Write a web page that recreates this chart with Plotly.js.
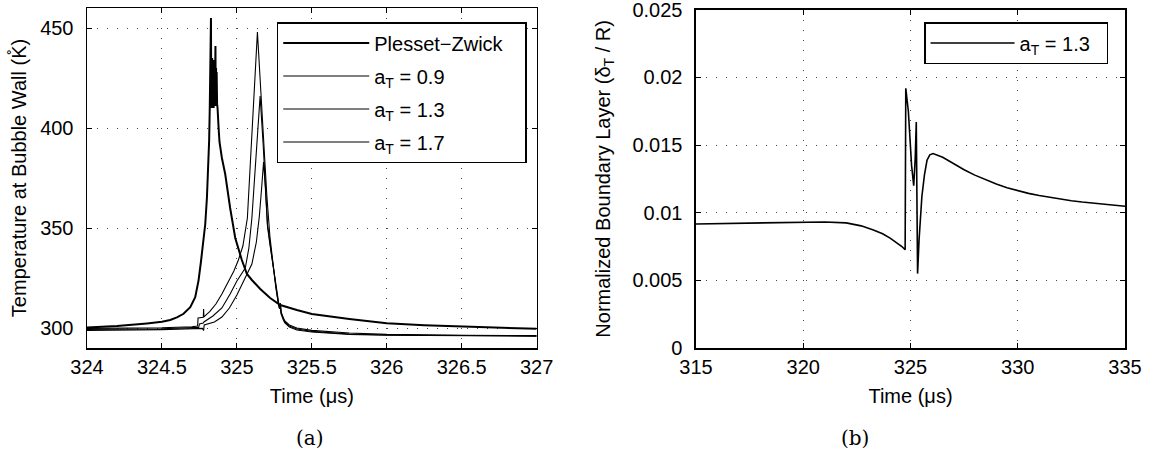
<!DOCTYPE html>
<html>
<head>
<meta charset="utf-8">
<script src="https://cdn.plot.ly/plotly-3.0.1.min.js"></script>
<style>html,body{margin:0;padding:0;background:#fff;}#chart{width:1156px;height:460px;}</style>
</head>
<body>
<div id="chart"></div>
<script>
// ---- Panel (a): temperature at bubble wall ----
const pzTime = [324.0,324.2,324.4,324.5,324.555,324.6,324.644,324.689,324.722,324.744,324.76,324.775,324.789,324.8,324.81,324.815,324.819,324.822,324.824,324.827,324.829,324.831,324.833,324.835,324.837,324.839,324.841,324.843,324.845,324.847,324.849,324.851,324.853,324.855,324.857,324.859,324.861,324.863,324.865,324.868,324.871,324.878,324.884,324.9,324.922,324.955,324.989,325.033,325.067,325.1,325.156,325.222,325.289,325.4,325.5,325.75,326.0,326.25,326.5,326.75,327.0];
const pzTemp = [300.3,301.0,302.3,303.1,304.0,305.3,307.1,310.4,315.4,323.7,333,342,352,365,382,394,410,428,432,455,416,434,410,435,411,433,412,434,410,433,413,432,411,426,441,412,430,411,428,412,410,400,393,385,377,360,345,334,327,324,319.5,315,311.5,309,307,304.5,302.4,301.4,300.7,300.1,299.6];

const a09Time = [324.0,324.3,324.5,324.7,324.738,324.741,324.776,324.778,324.78,324.82,324.86,324.9,324.94,324.98,325.01,325.04,325.07,325.09,325.1,325.12,325.137,325.16,325.178,325.2,325.22,325.244,325.26,325.275,325.285,325.29,325.295,325.31,325.32,325.35,325.4,325.5,325.75,326.0,326.5,327.0];
const a09Temp = [299.8,299.9,300.1,300.6,301.0,305.0,305.4,309.5,305.6,308.3,312,317,322.5,328.5,334,341,355,381,395,421,448,418,394,366,346,329,320,313,309.5,312.5,308,305,303.5,301.5,300,298.8,297.5,296.8,296.3,296.2];

const a13Time = [324.0,324.5,324.745,324.75,324.776,324.78,324.84,324.9,324.955,325.0,325.056,325.08,325.1,325.12,325.137,325.155,325.175,325.19,325.204,325.22,325.244,325.26,325.275,325.285,325.29,325.295,325.31,325.32,325.35,325.4,325.5,325.75,326.0,326.5,327.0];
const a13Temp = [299.3,299.6,300.3,302.0,302.5,303.0,306,310,317,323.5,330,340,355,378,398,416,392,370,352,343,329,320,313,309.5,312,307.5,304.5,303,301,299.5,298.3,297.0,296.5,296.1,296.0];

const a17Time = [324.0,324.5,324.77,324.778,324.782,324.85,324.9,324.95,325.0,325.05,325.1,325.13,325.15,325.165,325.178,325.19,325.204,325.22,325.244,325.26,325.275,325.285,325.29,325.295,325.31,325.32,325.35,325.4,325.5,325.75,326.0,326.5,327.0];
const a17Temp = [298.8,299.2,299.8,298.7,301.5,303,305.5,310,316.5,324,332,343,356,370,383,370,351,342,330,320,313,309.5,311.5,307,304,302.5,300.5,299,298,296.8,296.4,296.0,295.9];

// ---- Panel (b): normalized boundary layer ----
const blTime = [315,316,317,318,319,320,321,322,322.7,323.27,323.7,324.05,324.35,324.6,324.75,324.78,324.9,325.05,325.15,325.22,325.27,325.3,325.33,325.4,325.53,325.65,325.77,325.9,326.05,326.5,327,327.5,328,328.5,329,329.5,330,330.5,331,331.5,332,332.5,333,333.5,334,334.5,335];
const blVal = [0.00917,0.0092,0.00925,0.00928,0.0093,0.00932,0.00932,0.00925,0.00903,0.00873,0.00845,0.00812,0.0078,0.0075,0.00726,0.0192,0.0175,0.0135,0.0120,0.0140,0.0167,0.0110,0.0055,0.0080,0.01118,0.0128,0.01388,0.01428,0.01437,0.0141,0.01363,0.01318,0.01278,0.01242,0.01212,0.01185,0.01162,0.01143,0.01127,0.01113,0.011,0.01089,0.01079,0.0107,0.01062,0.01055,0.01048];

const xTicksA = [324,324.5,325,325.5,326,326.5,327];
const yTicksA = [300,350,400,450];
const xTicksB = [315,320,325,330,335];
const yTicksB = [0,0.005,0.01,0.015,0.02,0.025];
const yTicksBText = ['0','0.005','0.01','0.015','0.02','0.025'];

const seriesNames = ['Plesset\u2212Zwick','a<sub>T</sub> = 0.9','a<sub>T</sub> = 1.3','a<sub>T</sub> = 1.7'];
const rightName = 'a<sub>T</sub> = 1.3';

const FONT = 'Liberation Sans, Arial, Helvetica, sans-serif';
const NB = '\u00a0';

const traces = [
  {x: pzTime, y: pzTemp, name: seriesNames[0] + NB + NB + NB, mode:'lines', line:{color:'#000', width:2}, xaxis:'x', yaxis:'y', legend:'legend', legendgroup:'g0'},
  {x: a09Time, y: a09Temp, name: seriesNames[1], mode:'lines', line:{color:'#000', width:1.1}, xaxis:'x', yaxis:'y', legend:'legend', legendgroup:'g1'},
  {x: a13Time, y: a13Temp, name: seriesNames[2], mode:'lines', line:{color:'#000', width:1.1}, xaxis:'x', yaxis:'y', legend:'legend', legendgroup:'g2'},
  {x: a17Time, y: a17Temp, name: seriesNames[3], mode:'lines', line:{color:'#000', width:1.1}, xaxis:'x', yaxis:'y', legend:'legend', legendgroup:'g3'},
  {x: blTime, y: blVal, name: rightName + NB + NB, mode:'lines', line:{color:'#000', width:1.6}, xaxis:'x2', yaxis:'y2', legend:'legend2'}
];

const axCommon = {
  showline:true, linecolor:'#000', linewidth:1.5, mirror:'ticks',
  ticks:'inside', ticklen:5, tickcolor:'#000', tickwidth:1,
  showgrid:true, gridcolor:'#444', gridwidth:1, griddash:'1px,9px',
  zeroline:false, tickfont:{family:FONT, size:20, color:'#000'},
  automargin:false, ticklabeloverflow:'allow'
};

const layout = {
  width:1156, height:460,
  margin:{l:87, r:31, t:8, b:112},
  paper_bgcolor:'#fff', plot_bgcolor:'#fff',
  font:{family:FONT, size:20, color:'#000'},
  showlegend:true,
  xaxis: Object.assign({}, axCommon, {domain:[0,0.4332], range:[324,327], tickmode:'array', tickvals:xTicksA, ticklabelstandoff:0,
    title:{text:'Time (\u03bcs)', font:{family:FONT,size:20,color:'#000'}, standoff:12}}),
  yaxis: Object.assign({}, axCommon, {domain:[0,1], range:[290,460], tickmode:'array', tickvals:yTicksA, ticklabelstandoff:8,
    title:{text:'Temperature at Bubble Wall (K\u030A)', font:{family:FONT,size:20,color:'#000'}, standoff:8}}),
  xaxis2: Object.assign({}, axCommon, {domain:[0.5867,1], range:[315,335], tickmode:'array', tickvals:xTicksB, ticklabelstandoff:0, anchor:'y2',
    title:{text:'Time (\u03bcs)', font:{family:FONT,size:20,color:'#000'}, standoff:12}}),
  yaxis2: Object.assign({}, axCommon, {domain:[0,0.995], range:[0,0.02501], tickmode:'array', tickvals:yTicksB, ticktext:yTicksBText, ticklabelstandoff:8, anchor:'x2',
    title:{text:'Normalized Boundary Layer (\u03b4<sub>T</sub> / R)', font:{family:FONT,size:20,color:'#000'}, standoff:16}}),
  legend:{x:0.1828, y:0.9588, xanchor:'left', yanchor:'top', bgcolor:'#fff', bordercolor:'#000', borderwidth:1.5,
    font:{family:FONT,size:20,color:'#000'}, itemwidth:86, tracegroupgap:4},
  legend2:{x:0.8064, y:0.9588, xanchor:'left', yanchor:'top', bgcolor:'#fff', bordercolor:'#000', borderwidth:1.5,
    font:{family:FONT,size:20,color:'#000'}, itemwidth:84},
  annotations:[
    {text:'(a)', xref:'paper', yref:'paper', x:0.2150, y:-0.265, xanchor:'center', yanchor:'middle', showarrow:false, font:{family:'DejaVu Serif, Liberation Serif, serif', size:20, color:'#000'}},
    {text:'(b)', xref:'paper', yref:'paper', x:0.7398, y:-0.265, xanchor:'center', yanchor:'middle', showarrow:false, font:{family:'DejaVu Serif, Liberation Serif, serif', size:20, color:'#000'}}
  ]
};

Plotly.newPlot('chart', traces, layout, {staticPlot:true, displayModeBar:false});
</script>
</body>
</html>
